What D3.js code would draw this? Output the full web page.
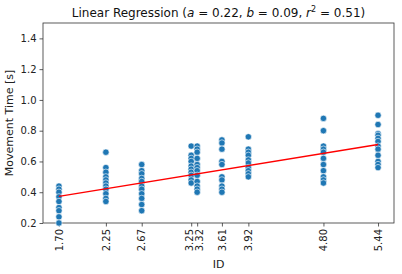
<!doctype html>
<html>
<head>
  <meta charset="utf-8">
  <title>Linear Regression</title>
  <style>
    body { margin: 0; background: #fff; }
    svg { display: block; font-family: "DejaVu Sans", sans-serif; }
  </style>
</head>
<body>
  <div id="vis"></div>
  <script src="https://cdn.jsdelivr.net/npm/d3@7"></script>
  <script>

    // index of difficulty per condition
    var ids = [1.70, 2.25, 2.67, 3.25, 3.32, 3.61, 3.92, 4.80, 5.44];

    // movement times [s]
    var mt170 = [0.44, 0.42, 0.40, 0.37, 0.34, 0.30, 0.28, 0.24, 0.20];
    var mt225 = [0.66, 0.56, 0.53, 0.50, 0.48, 0.46, 0.44, 0.42, 0.39, 0.36, 0.34];
    var mt267 = [0.58, 0.54, 0.52, 0.49, 0.47, 0.44, 0.42, 0.39, 0.36, 0.32, 0.28];
    var mt325 = [0.70, 0.64, 0.62, 0.60, 0.57, 0.55, 0.53, 0.51, 0.48, 0.46];
    var mt332 = [0.70, 0.68, 0.66, 0.62, 0.58, 0.56, 0.54, 0.51, 0.47, 0.44, 0.42, 0.40];
    var mt361 = [0.74, 0.72, 0.68, 0.60, 0.58, 0.50, 0.48, 0.44, 0.42, 0.40];
    var mt392 = [0.76, 0.68, 0.66, 0.64, 0.61, 0.59, 0.56, 0.54, 0.52, 0.50];
    var mt480 = [0.88, 0.80, 0.70, 0.68, 0.66, 0.62, 0.58, 0.54, 0.50, 0.48, 0.46];
    var mt544 = [0.90, 0.84, 0.78, 0.77, 0.75, 0.73, 0.70, 0.68, 0.64, 0.60, 0.58, 0.56];

    var yTicks = [0.2, 0.4, 0.6, 0.8, 1.0, 1.2, 1.4];

    // fit parameters shown in the title
    var a = 0.22, b = 0.09, r2 = 0.51;

    var columns = [mt170, mt225, mt267, mt325, mt332, mt361, mt392, mt480, mt544];
    var points = [];
    columns.forEach(function(col, i){
      col.forEach(function(v){
        points.push({id: ids[i], mt: v});
      });
    });

    var w = 402, h = 274;
    var margin = {top: 23, right: 8, bottom: 51, left: 43};
    var iw = w - margin.left - margin.right,
        ih = h - margin.top - margin.bottom;

    var svg = d3.select("#vis").append("svg")
      .attr("width", w)
      .attr("height", h);

    var pad = (d3.max(ids) - d3.min(ids)) * 0.05;
    var x = d3.scaleLinear()
      .domain([d3.min(ids) - pad, d3.max(ids) + pad])
      .range([0, iw]);

    var y = d3.scaleLinear()
      .domain([0.2, 1.5])
      .range([ih, 0]);

    var g = svg.append("g")
      .attr("transform", "translate(" + margin.left + "," + margin.top + ")");

    // axes
    var xAxis = g.append("g")
      .attr("transform", "translate(0," + ih + ")")
      .call(d3.axisBottom(x).tickValues(ids).tickFormat(d3.format(".2f")).tickSizeOuter(0).tickSize(3.5));

    // the two close labels are pushed apart a little so they don't collide
    xAxis.selectAll("text")
      .attr("transform", "rotate(-90)")
      .attr("text-anchor", "end")
      .attr("dy", "0.32em")
      .attr("x", -6)
      .attr("y", function(d){
        if (d === 3.25) return -2;
        if (d === 3.32) return 2.5;
        return 0;
      });

    var yAxis = g.append("g")
      .call(d3.axisLeft(y).tickValues(yTicks).tickFormat(d3.format(".1f")).tickSizeOuter(0).tickSize(3.5));

    [xAxis, yAxis].forEach(function(ax){
      ax.select(".domain").remove();
      ax.selectAll("line").attr("stroke", "#333").attr("stroke-width", 0.8);
      ax.selectAll("text").attr("font-size", 10).attr("fill", "#222")
        .attr("font-family", "DejaVu Sans, sans-serif");
    });

    // frame
    g.append("rect")
      .attr("width", iw)
      .attr("height", ih)
      .attr("fill", "none")
      .attr("stroke", "#333")
      .attr("stroke-width", 0.8);

    // points
    g.selectAll("circle")
      .data(points)
      .enter()
      .append("circle")
      .attr("cx", function(d){ return x(d.id); })
      .attr("cy", function(d){ return y(d.mt); })
      .attr("r", 3.2)
      .attr("fill", "#1f77b4")
      .attr("stroke", "#fff")
      .attr("stroke-width", 0.6);

    // regression line
    var xs = d3.extent(ids);
    g.append("line")
      .attr("x1", x(xs[0]))
      .attr("y1", y(a + b * xs[0]))
      .attr("x2", x(xs[1]))
      .attr("y2", y(a + b * xs[1]))
      .attr("stroke", "red")
      .attr("stroke-width", 1.5);

    // labels
    svg.append("text")
      .attr("x", margin.left + iw / 2)
      .attr("y", h - 6)
      .attr("text-anchor", "middle")
      .attr("font-size", 11)
      .attr("fill", "#222")
      .text("ID");

    svg.append("text")
      .attr("transform", "translate(13," + (margin.top + ih / 2) + ") rotate(-90)")
      .attr("text-anchor", "middle")
      .attr("font-size", 11)
      .attr("fill", "#222")
      .text("Movement Time [s]");

    var title = svg.append("text")
      .attr("x", margin.left + iw / 2)
      .attr("y", 17)
      .attr("text-anchor", "middle")
      .attr("font-size", 12)
      .attr("fill", "#111");
    title.append("tspan").text("Linear Regression (");
    title.append("tspan").attr("font-style", "italic").text("a");
    title.append("tspan").text(" = " + a.toFixed(2) + ", ");
    title.append("tspan").attr("font-style", "italic").text("b");
    title.append("tspan").text(" = " + b.toFixed(2) + ", ");
    title.append("tspan").attr("font-style", "italic").text("r");
    title.append("tspan").attr("font-size", 8).attr("dy", -5).text("2");
    title.append("tspan").attr("dy", 5).text(" = " + r2.toFixed(2) + ")");

  </script>
</body>
</html>
